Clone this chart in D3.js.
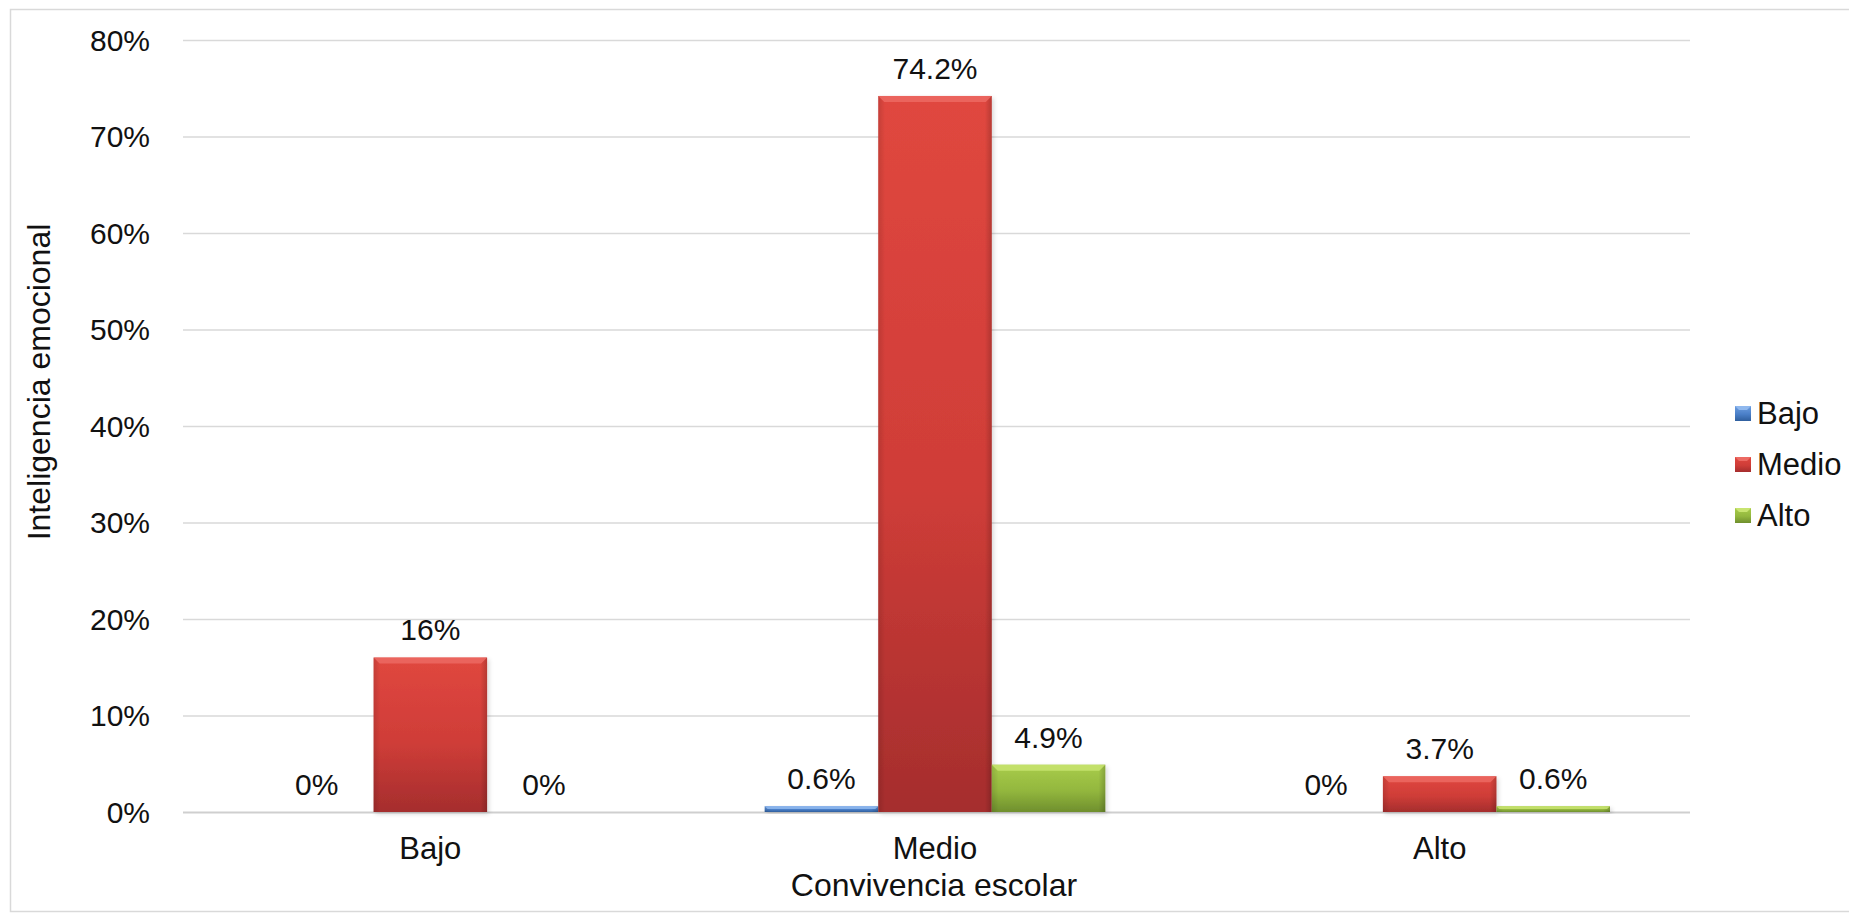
<!DOCTYPE html>
<html>
<head>
<meta charset="utf-8">
<script src="https://cdn.jsdelivr.net/npm/d3@7"></script>
<style>
  html, body { margin: 0; padding: 0; background: #fff; }
  svg { display: block; font-family: "Liberation Sans", Arial, sans-serif; }
</style>
</head>
<body>
<svg id="chart" width="1849" height="914"></svg>
<script>
// ---- data ----
const categories = ["Bajo", "Medio", "Alto"];            // Convivencia escolar
const seriesNames = ["Bajo", "Medio", "Alto"];           // Inteligencia emocional
const valuesBajo  = [0, 0.6, 0];
const valuesMedio = [16, 74.2, 3.7];
const valuesAlto  = [0, 4.9, 0.6];
const valueLabels = [["0%", "0.6%", "0%"], ["16%", "74.2%", "3.7%"], ["0%", "4.9%", "0.6%"]];
const yTicks = [0, 10, 20, 30, 40, 50, 60, 70, 80];
const xTitle = "Convivencia escolar";
const yTitle = "Inteligencia emocional";

const seriesValues = [valuesBajo, valuesMedio, valuesAlto];
const colors = [
  { top: "#6d9ee0", mid: "#4a7fc8", bot: "#2f5f9e", hi: "#8fb8ee" },
  { top: "#e0473f", mid: "#cf3d38", bot: "#a52d2d", hi: "#ec6a63" },
  { top: "#a8cc4a", mid: "#93b73e", bot: "#6f8f2d", hi: "#c8e470" }
];

const svg = d3.select("#chart");
const L = 183, R = 1690, T = 40, B = 812;

// border
svg.append("rect").attr("x", 10.5).attr("y", 9.5).attr("width", 1860).attr("height", 902)
  .attr("fill", "none").attr("stroke", "#d9d9d9").attr("stroke-width", 1.5);

const defs = svg.append("defs");
colors.forEach((c, i) => {
  const g = defs.append("linearGradient").attr("id", "grad" + i)
    .attr("x1", 0).attr("y1", 0).attr("x2", 0).attr("y2", 1);
  g.append("stop").attr("offset", "0%").attr("stop-color", c.top);
  g.append("stop").attr("offset", "55%").attr("stop-color", c.mid);
  g.append("stop").attr("offset", "100%").attr("stop-color", c.bot);
  const h = defs.append("linearGradient").attr("id", "side" + i)
    .attr("x1", 0).attr("y1", 0).attr("x2", 1).attr("y2", 0);
  h.append("stop").attr("offset", "0%").attr("stop-color", "#000").attr("stop-opacity", 0.12);
  h.append("stop").attr("offset", "6%").attr("stop-color", "#000").attr("stop-opacity", 0);
  h.append("stop").attr("offset", "94%").attr("stop-color", "#000").attr("stop-opacity", 0);
  h.append("stop").attr("offset", "100%").attr("stop-color", "#000").attr("stop-opacity", 0.18);
});
const shadow = defs.append("filter").attr("id", "shadow").attr("x", "-10%").attr("y", "-10%").attr("width", "130%").attr("height", "130%");
shadow.append("feDropShadow").attr("dx", 2).attr("dy", 2).attr("stdDeviation", 2)
  .attr("flood-color", "#000").attr("flood-opacity", 0.15);

const y = d3.scaleLinear().domain([0, 80]).range([B, T]);
const x0 = d3.scaleBand().domain(categories).range([178, 1692]).paddingInner(0.325).paddingOuter(0.1625);
const x1 = d3.scaleBand().domain(seriesNames).range([0, x0.bandwidth()]);

// gridlines
svg.append("g").selectAll("line").data(yTicks).join("line")
  .attr("x1", L).attr("x2", R)
  .attr("y1", d => y(d) + 0.5).attr("y2", d => y(d) + 0.5)
  .attr("stroke", d => d === 0 ? "#cfcfcf" : "#d9d9d9").attr("stroke-width", d => d === 0 ? 2 : 1.5);

// y tick labels
svg.append("g").selectAll("text").data(yTicks).join("text")
  .attr("x", 150).attr("y", d => y(d)).attr("dy", "0.36em")
  .attr("text-anchor", "end").attr("font-size", 30).attr("fill", "#111")
  .text(d => d + "%");

// x tick labels
svg.append("g").selectAll("text").data(categories).join("text")
  .attr("x", d => x0(d) + x0.bandwidth() / 2).attr("y", 859)
  .attr("text-anchor", "middle").attr("font-size", 31).attr("fill", "#111")
  .text(d => d);

// axis titles
svg.append("text").attr("x", 934).attr("y", 896).attr("text-anchor", "middle")
  .attr("font-size", 32).attr("fill", "#111").text(xTitle);
svg.append("text").attr("transform", "translate(50,382) rotate(-90)").attr("text-anchor", "middle")
  .attr("font-size", 32).attr("fill", "#111").text(yTitle);

// bars
const barData = [];
seriesNames.forEach((s, si) => {
  categories.forEach((c, ci) => {
    barData.push({ s, si, c, v: seriesValues[si][ci], label: valueLabels[si][ci] });
  });
});

const bars = svg.append("g");
barData.filter(d => d.v > 0).forEach(d => {
  const bx = x0(d.c) + x1(d.s), bw = x1.bandwidth();
  const by = y(d.v), bh = B - by;
  const g = bars.append("g");
  g.append("rect").attr("x", bx).attr("y", by).attr("width", bw).attr("height", bh)
    .attr("fill", `url(#grad${d.si})`).attr("filter", "url(#shadow)");
  g.append("rect").attr("x", bx).attr("y", by).attr("width", bw).attr("height", bh)
    .attr("fill", `url(#side${d.si})`);
  const bev = Math.min(6, bh / 2);
  g.append("path")
    .attr("d", `M${bx},${by}L${bx + bw},${by}L${bx + bw - bev},${by + bev}L${bx + bev},${by + bev}Z`)
    .attr("fill", colors[d.si].hi).attr("opacity", 0.85);
});

// value labels
svg.append("g").selectAll("text").data(barData).join("text")
  .attr("x", d => x0(d.c) + x1(d.s) + x1.bandwidth() / 2)
  .attr("y", d => y(d.v) - 28).attr("dy", "0.36em")
  .attr("text-anchor", "middle").attr("font-size", 30).attr("fill", "#111")
  .text(d => d.label);

// legend
const legend = svg.append("g");
seriesNames.forEach((s, i) => {
  const cy = 413 + i * 51;
  legend.append("rect").attr("x", 1735).attr("y", cy - 7).attr("width", 16).attr("height", 15)
    .attr("fill", `url(#grad${i})`);
  legend.append("path")
    .attr("d", `M1735,${cy - 7}L1751,${cy - 7}L1747,${cy - 3}L1739,${cy - 3}Z`)
    .attr("fill", colors[i].hi);
  legend.append("text").attr("x", 1757).attr("y", cy).attr("dy", "0.36em")
    .attr("font-size", 31).attr("fill", "#111").text(s);
});
</script>
</body>
</html>
